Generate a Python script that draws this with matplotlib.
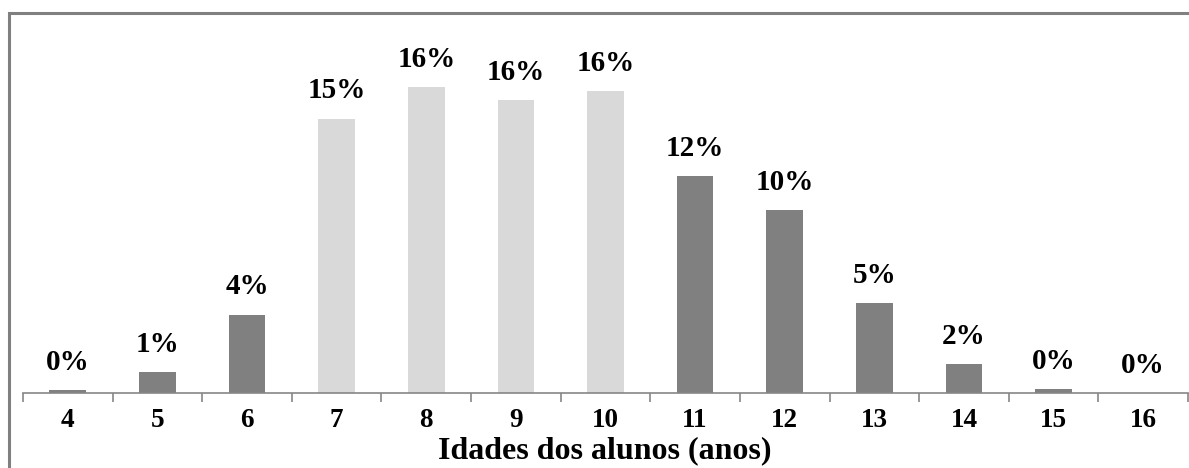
import matplotlib.pyplot as plt
from matplotlib.patches import Rectangle

# idades e percentagens
idades = ['4', '5', '6', '7', '8', '9', '10', '11', '12', '13', '14', '15', '16']
valores = [0.16, 1.1, 4.2, 14.7, 16.4, 15.7, 16.2, 11.6, 9.8, 4.8, 1.55, 0.2, 0.0]
rotulos = ['0%', '1%', '4%', '15%', '16%', '16%', '16%', '12%', '10%', '5%', '2%', '0%', '0%']
destaque = ['7', '8', '9', '10']

plt.rcParams['font.family'] = ['Liberation Serif', 'DejaVu Serif']
plt.rcParams['font.weight'] = 'bold'

fig = plt.figure(figsize=(11.89, 4.68), dpi=100)
ax = fig.add_axes([23 / 1189, 75 / 468, 1165 / 1189, 380 / 468])

cores = ['#d9d9d9' if i in destaque else '#808080' for i in idades]
x = list(range(len(idades)))
ax.bar(x, valores, width=0.41, color=cores)

for xi, v, r in zip(x, valores, rotulos):
    ax.annotate(r, (xi, v), xytext=(0, 14.5), textcoords='offset points',
                ha='center', va='baseline', fontsize=21, fontweight='bold')

ax.set_xlim(-0.5, len(idades) - 0.5)
ax.set_ylim(0, 20.36)
ax.set_yticks([])
for s in ['top', 'right', 'left']:
    ax.spines[s].set_visible(False)
ax.spines['bottom'].set_color('#868686')
ax.spines['bottom'].set_linewidth(1.2)

ax.set_xticks(x)
ax.set_xticklabels(idades, fontsize=19.5, fontweight='bold')
ax.set_xticks([i - 0.5 for i in range(len(idades) + 1)], minor=True)
ax.tick_params(axis='x', which='major', length=0, pad=11)
ax.tick_params(axis='x', which='minor', length=6.5, width=1.2, color='#868686')

fig.text(605 / 1189, 10 / 468, 'Idades dos alunos (anos)', ha='center', va='baseline',
         fontsize=23, fontweight='bold')

# moldura do grafico
fig.patches.append(Rectangle((9 / 1189, -0.1), 1.2, 1 - 13 / 468 + 0.1, transform=fig.transFigure,
                             fill=False, edgecolor='#808080', linewidth=2.2))

fig.savefig('out.png', dpi=100)
